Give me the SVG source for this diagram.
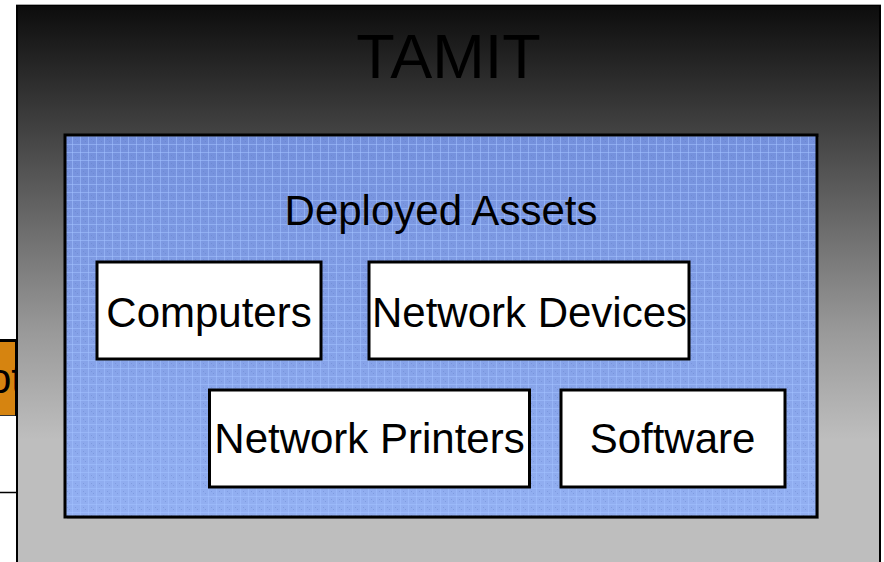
<svg xmlns="http://www.w3.org/2000/svg" width="884" height="562" viewBox="0 0 884 562">
  <defs>
    <linearGradient id="outerFill" gradientUnits="userSpaceOnUse" x1="0" y1="5" x2="0" y2="440">
      <stop offset="0" stop-color="#0c0c0c"/>
      <stop offset="0.3" stop-color="#444444"/>
      <stop offset="0.75" stop-color="#999999"/>
      <stop offset="1" stop-color="#bebebe"/>
    </linearGradient>
    <linearGradient id="blueFill" gradientUnits="userSpaceOnUse" x1="0" y1="135" x2="0" y2="517">
      <stop offset="0" stop-color="#7490dc"/>
      <stop offset="1" stop-color="#93b0f2"/>
    </linearGradient>
    <pattern id="grid" width="8" height="8" patternUnits="userSpaceOnUse">
      <rect x="0" y="0" width="1" height="8" fill="#a2c0ff" fill-opacity="0.55"/>
      <rect x="0" y="0" width="8" height="1" fill="#a2c0ff" fill-opacity="0.55"/>
      <rect x="3" y="3" width="1" height="1" fill="#5f78c0" fill-opacity="0.35"/>
      <rect x="5" y="5" width="1" height="1" fill="#5f78c0" fill-opacity="0.35"/>
    </pattern>
    <clipPath id="leftClip">
      <rect x="0" y="0" width="17" height="562"/>
    </clipPath>
  </defs>
  <style>
    .lbl { font-family: "Liberation Sans", Arial, sans-serif; fill: #000; }
    .item { fill: #fff; stroke: #000; stroke-width: 3; }
  </style>

  <rect x="0" y="0" width="884" height="562" fill="#fff"/>

  <!-- partially visible neighbouring panel on the left -->
  <g id="side-panel" clip-path="url(#leftClip)">
    <rect x="-40" y="341" width="57" height="74" fill="#d68410"/>
    <line x1="-40" y1="340.5" x2="17" y2="340.5" stroke="#000" stroke-width="3"/>
    <line x1="-40" y1="415.5" x2="17" y2="415.5" stroke="#333" stroke-width="1"/>
    <line x1="-40" y1="492.5" x2="17" y2="492.5" stroke="#000" stroke-width="1.5"/>
    <line x1="16" y1="340" x2="16" y2="416" stroke="#000" stroke-width="2"/>
    <text class="lbl" x="-12" y="393" font-size="42">ot</text>
  </g>

  <!-- outer container -->
  <g id="tamit">
    <rect x="17" y="5" width="863" height="600" fill="url(#outerFill)" stroke="#000" stroke-width="2"/>
    <line x1="16" y1="4.5" x2="881" y2="4.5" stroke="#a8a8a8" stroke-width="1"/>
    <text class="lbl" x="448.5" y="78" font-size="63" text-anchor="middle">TAMIT</text>
  </g>

  <!-- deployed assets group -->
  <g id="deployed-assets">
    <rect x="67" y="137" width="752" height="382" fill="#7a7a7a" fill-opacity="0.5"/>
    <rect x="65" y="135" width="752" height="382" fill="url(#blueFill)"/>
    <rect x="65" y="135" width="752" height="382" fill="url(#grid)" stroke="#000" stroke-width="3"/>
    <text class="lbl" x="441" y="225" font-size="42" text-anchor="middle">Deployed Assets</text>
  </g>

  <g id="computers">
    <rect class="item" x="97" y="262" width="224" height="97"/>
    <text class="lbl" x="209" y="327" font-size="42" text-anchor="middle">Computers</text>
  </g>

  <g id="network-devices">
    <rect class="item" x="369" y="262" width="320" height="97"/>
    <text class="lbl" x="529.5" y="327" font-size="42" text-anchor="middle">Network Devices</text>
  </g>

  <g id="network-printers">
    <rect class="item" x="209.5" y="390" width="320" height="97"/>
    <text class="lbl" x="369.5" y="453" font-size="42" text-anchor="middle">Network Printers</text>
  </g>

  <g id="software">
    <rect class="item" x="561" y="390" width="224" height="97"/>
    <text class="lbl" x="672.5" y="453" font-size="42" text-anchor="middle">Software</text>
  </g>

  <g id="connectors"/>
</svg>
